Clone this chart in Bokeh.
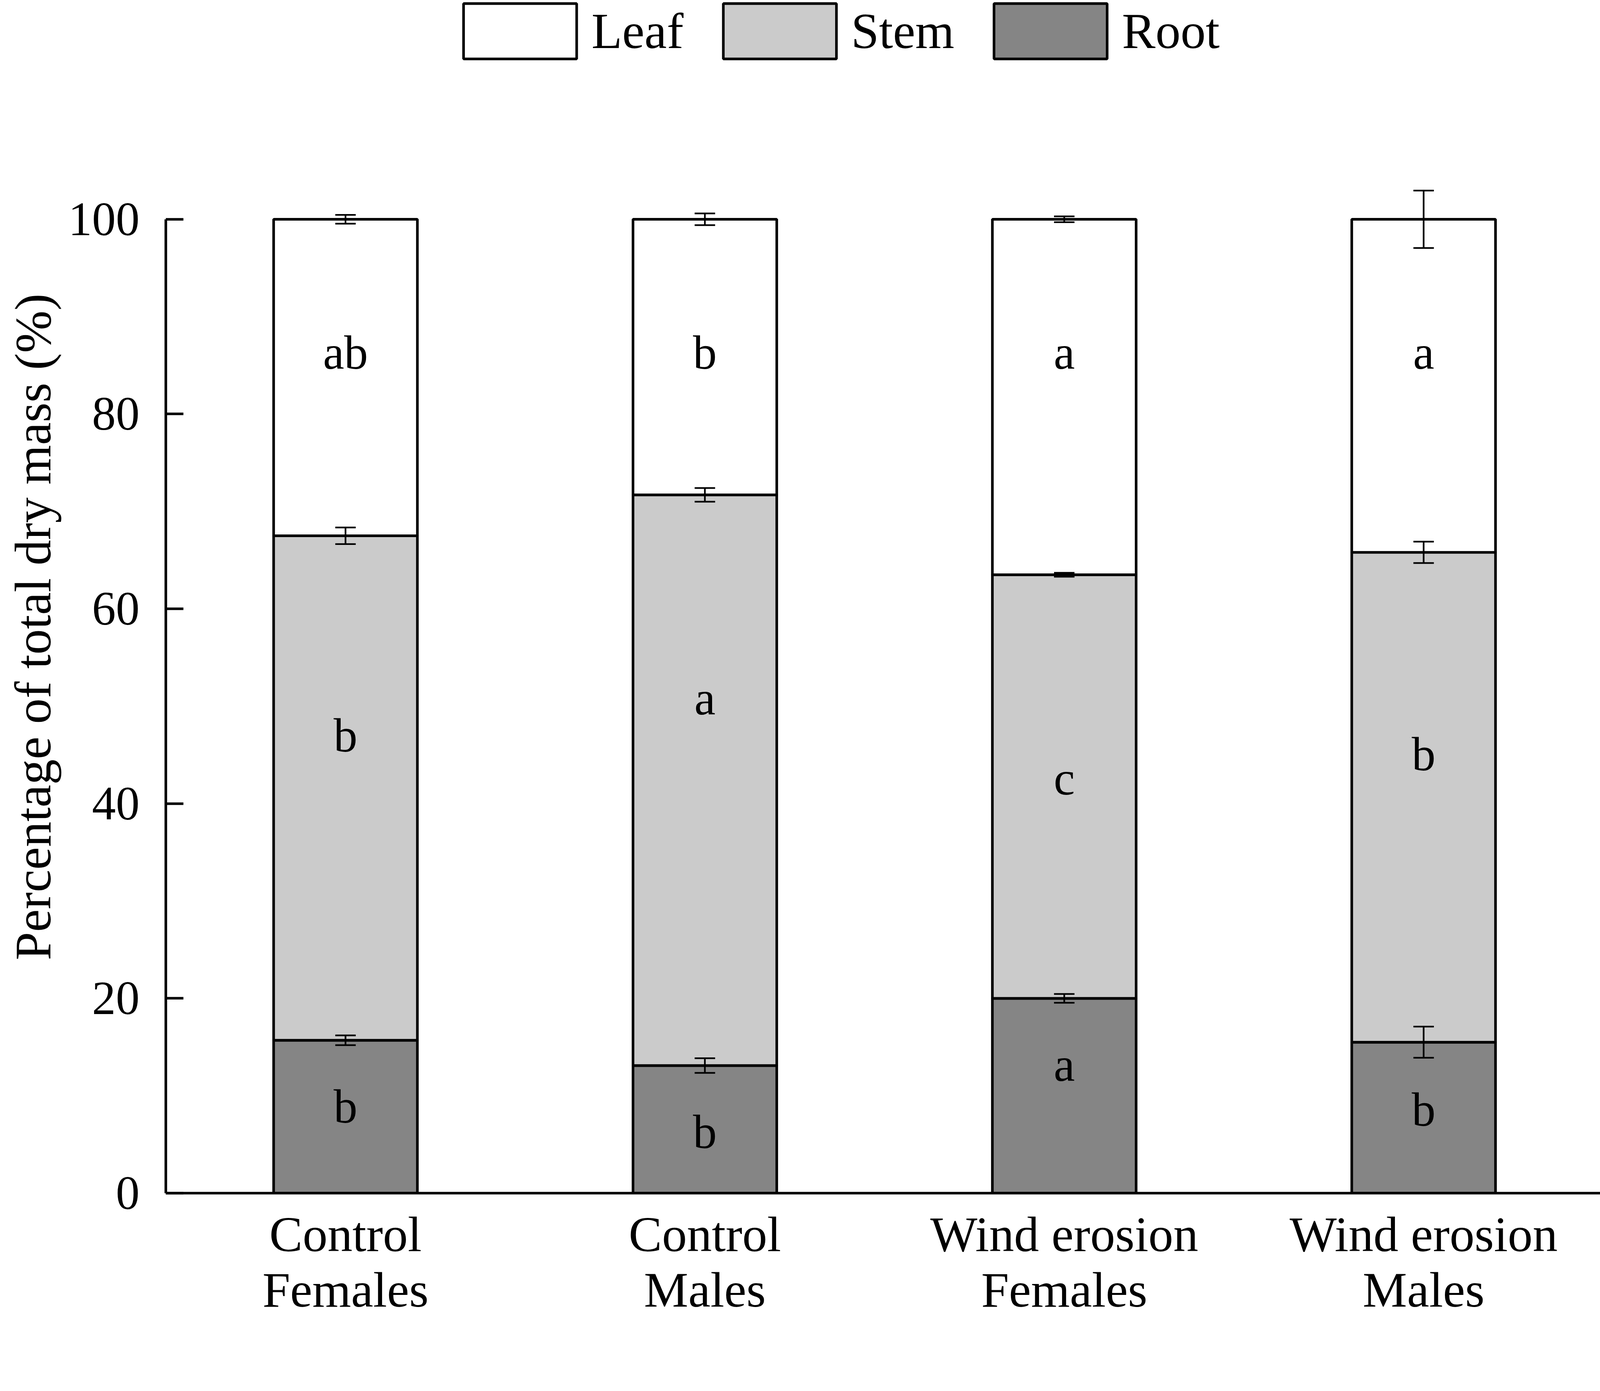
import math
from bokeh.plotting import figure
from bokeh.models import (Range1d, FactorRange, Whisker, TeeHead, ColumnDataSource,
                          Legend, LegendItem, Title)
from bokeh.core.properties import value
from bokeh.embed import file_html
from bokeh.resources import INLINE

# ---------------- data ----------------
categories = ["Control\nFemales", "Control\nMales", "Wind erosion\nFemales", "Wind erosion\nMales"]
series = ["Leaf", "Stem", "Root"]
root_pct = [15.7, 13.1, 20.0, 15.5]
stem_pct = [51.8, 58.6, 43.5, 50.3]
leaf_pct = [32.5, 28.3, 36.5, 34.2]
root_err = [0.5, 0.75, 0.45, 1.6]
stem_err = [0.85, 0.7, 0.2, 1.1]
leaf_err = [0.45, 0.6, 0.3, 2.95]
root_letters = ["b", "b", "a", "b"]
stem_letters = ["b", "a", "c", "b"]
leaf_letters = ["ab", "b", "a", "a"]
root_letter_y = [8.9, 6.3, 13.2, 8.6]
stem_letter_y = [47.0, 50.8, 42.6, 45.1]
leaf_letter_y = [86.3, 86.3, 86.3, 86.3]
y_ticks = [0, 20, 40, 60, 80, 100]
y_label = "Percentage of total dry mass (%)"

FONT = "Liberation Serif"
Z = 1.05  # observed page magnification of the photograph


def px(v):
    return v / Z


def ipx(v):
    return int(round(v / Z))


def fs(v):
    return "%.1fpx" % (v / Z)


stem_top = [r + s for r, s in zip(root_pct, stem_pct)]
leaf_top = [t + l for t, l in zip(stem_top, leaf_pct)]

W = int(px(4331) - 20)
H = int(px(3561) - 16)
left = int(round(px(450) - 8))
frame_h = px(3219) - 8
y100 = px(598) - 8
px_per_unit = (frame_h - y100) / 100.0
y_top = frame_h / px_per_unit

p = figure(x_range=FactorRange(*categories, range_padding=0),
           y_range=Range1d(0, y_top),
           width=W, height=H, output_backend="svg", toolbar_location=None,
           min_border_left=left, min_border_right=0, min_border_top=0,
           min_border_bottom=int(round(H - frame_h)))
p.outline_line_color = None
p.xgrid.grid_line_color = None
p.ygrid.grid_line_color = None
p.background_fill_color = "white"
p.border_fill_color = "white"

src = ColumnDataSource(dict(x=categories, root=root_pct, stem_top=stem_top, leaf_top=leaf_top,
                            zero=[0] * 4))
bar_lw = px(7)
r_root = p.vbar(x="x", bottom="zero", top="root", width=0.4, source=src,
                fill_color="#858585", line_color="black", line_width=bar_lw)
r_stem = p.vbar(x="x", bottom="root", top="stem_top", width=0.4, source=src,
                fill_color="#cbcbcb", line_color="black", line_width=bar_lw)
r_leaf = p.vbar(x="x", bottom="stem_top", top="leaf_top", width=0.4, source=src,
                fill_color="white", line_color="black", line_width=bar_lw)

tops = root_pct + stem_top + leaf_top
errs = root_err + stem_err + leaf_err
wsrc = ColumnDataSource(dict(base=categories * 3,
                             upper=[t + e for t, e in zip(tops, errs)],
                             lower=[t - e for t, e in zip(tops, errs)]))
err_lw = px(4.5)
wh = Whisker(base="base", upper="upper", lower="lower", source=wsrc, dimension="height",
             line_width=err_lw, line_color="black", level="annotation",
             upper_head=TeeHead(size=px(55), line_width=err_lw, line_color="black"),
             lower_head=TeeHead(size=px(55), line_width=err_lw, line_color="black"))
p.add_layout(wh)

lsrc = ColumnDataSource(dict(x=categories * 3,
                             y=root_letter_y + stem_letter_y + leaf_letter_y,
                             t=root_letters + stem_letters + leaf_letters))
p.text(x="x", y="y", text="t", source=lsrc, text_font=value(FONT), text_font_size=fs(128),
       text_align="center", text_baseline="middle", text_color="black")

# axes
ya = p.yaxis[0]
ya.ticker = y_ticks
ya.bounds = (0, 100)
ya.major_tick_in = ipx(47)
ya.major_tick_out = 0
ya.minor_tick_in = 0
ya.minor_tick_out = 0
ya.axis_line_width = bar_lw
ya.major_tick_line_width = bar_lw
ya.major_label_text_font = FONT
ya.major_label_text_font_size = fs(128)
ya.major_label_standoff = ipx(70)
ya.major_label_text_color = "black"

xa = p.xaxis[0]
xa.major_tick_in = 0
xa.major_tick_out = 0
xa.axis_line_width = bar_lw
xa.major_label_text_font = FONT
xa.major_label_text_font_size = fs(134)
xa.major_label_text_line_height = 1.0
xa.major_label_standoff = ipx(36)
xa.major_label_text_color = "black"

# y-axis title, placed so that it starts where the reference's does
ttl = Title(text=y_label, align="left", offset=float(frame_h - (px(2593) - 8)),
            text_font=FONT, text_font_size=fs(137), text_font_style="normal",
            text_color="black", vertical_align="top", standoff=25)
p.add_layout(ttl, "left")

# legend: Bokeh insets the area glyph by 10% on every side
gw = px(304) / 0.8
gh = px(149) / 0.8
inset_x = 0.1 * gw
inset_y = 0.1 * gh
leg_top = px(8.3) - 8 - inset_y + 13     # top of legend box in figure px (empirical +13)
legend = Legend(items=[LegendItem(label=series[0], renderers=[r_leaf]),
                       LegendItem(label=series[1], renderers=[r_stem]),
                       LegendItem(label=series[2], renderers=[r_root])],
                orientation="horizontal",
                location=(px(1251) - 8 - inset_x - left, frame_h - leg_top - int(round(gh))),
                glyph_width=int(round(gw)), glyph_height=int(round(gh)),
                label_height=int(round(gh)), label_standoff=ipx(2), spacing=ipx(68),
                padding=0, margin=0, border_line_color=None, background_fill_alpha=0,
                label_text_font=FONT, label_text_font_size=fs(135), label_text_color="black",
                label_text_line_height=1.0)
p.add_layout(legend)

open("out.html", "w").write(file_html(p, INLINE))
